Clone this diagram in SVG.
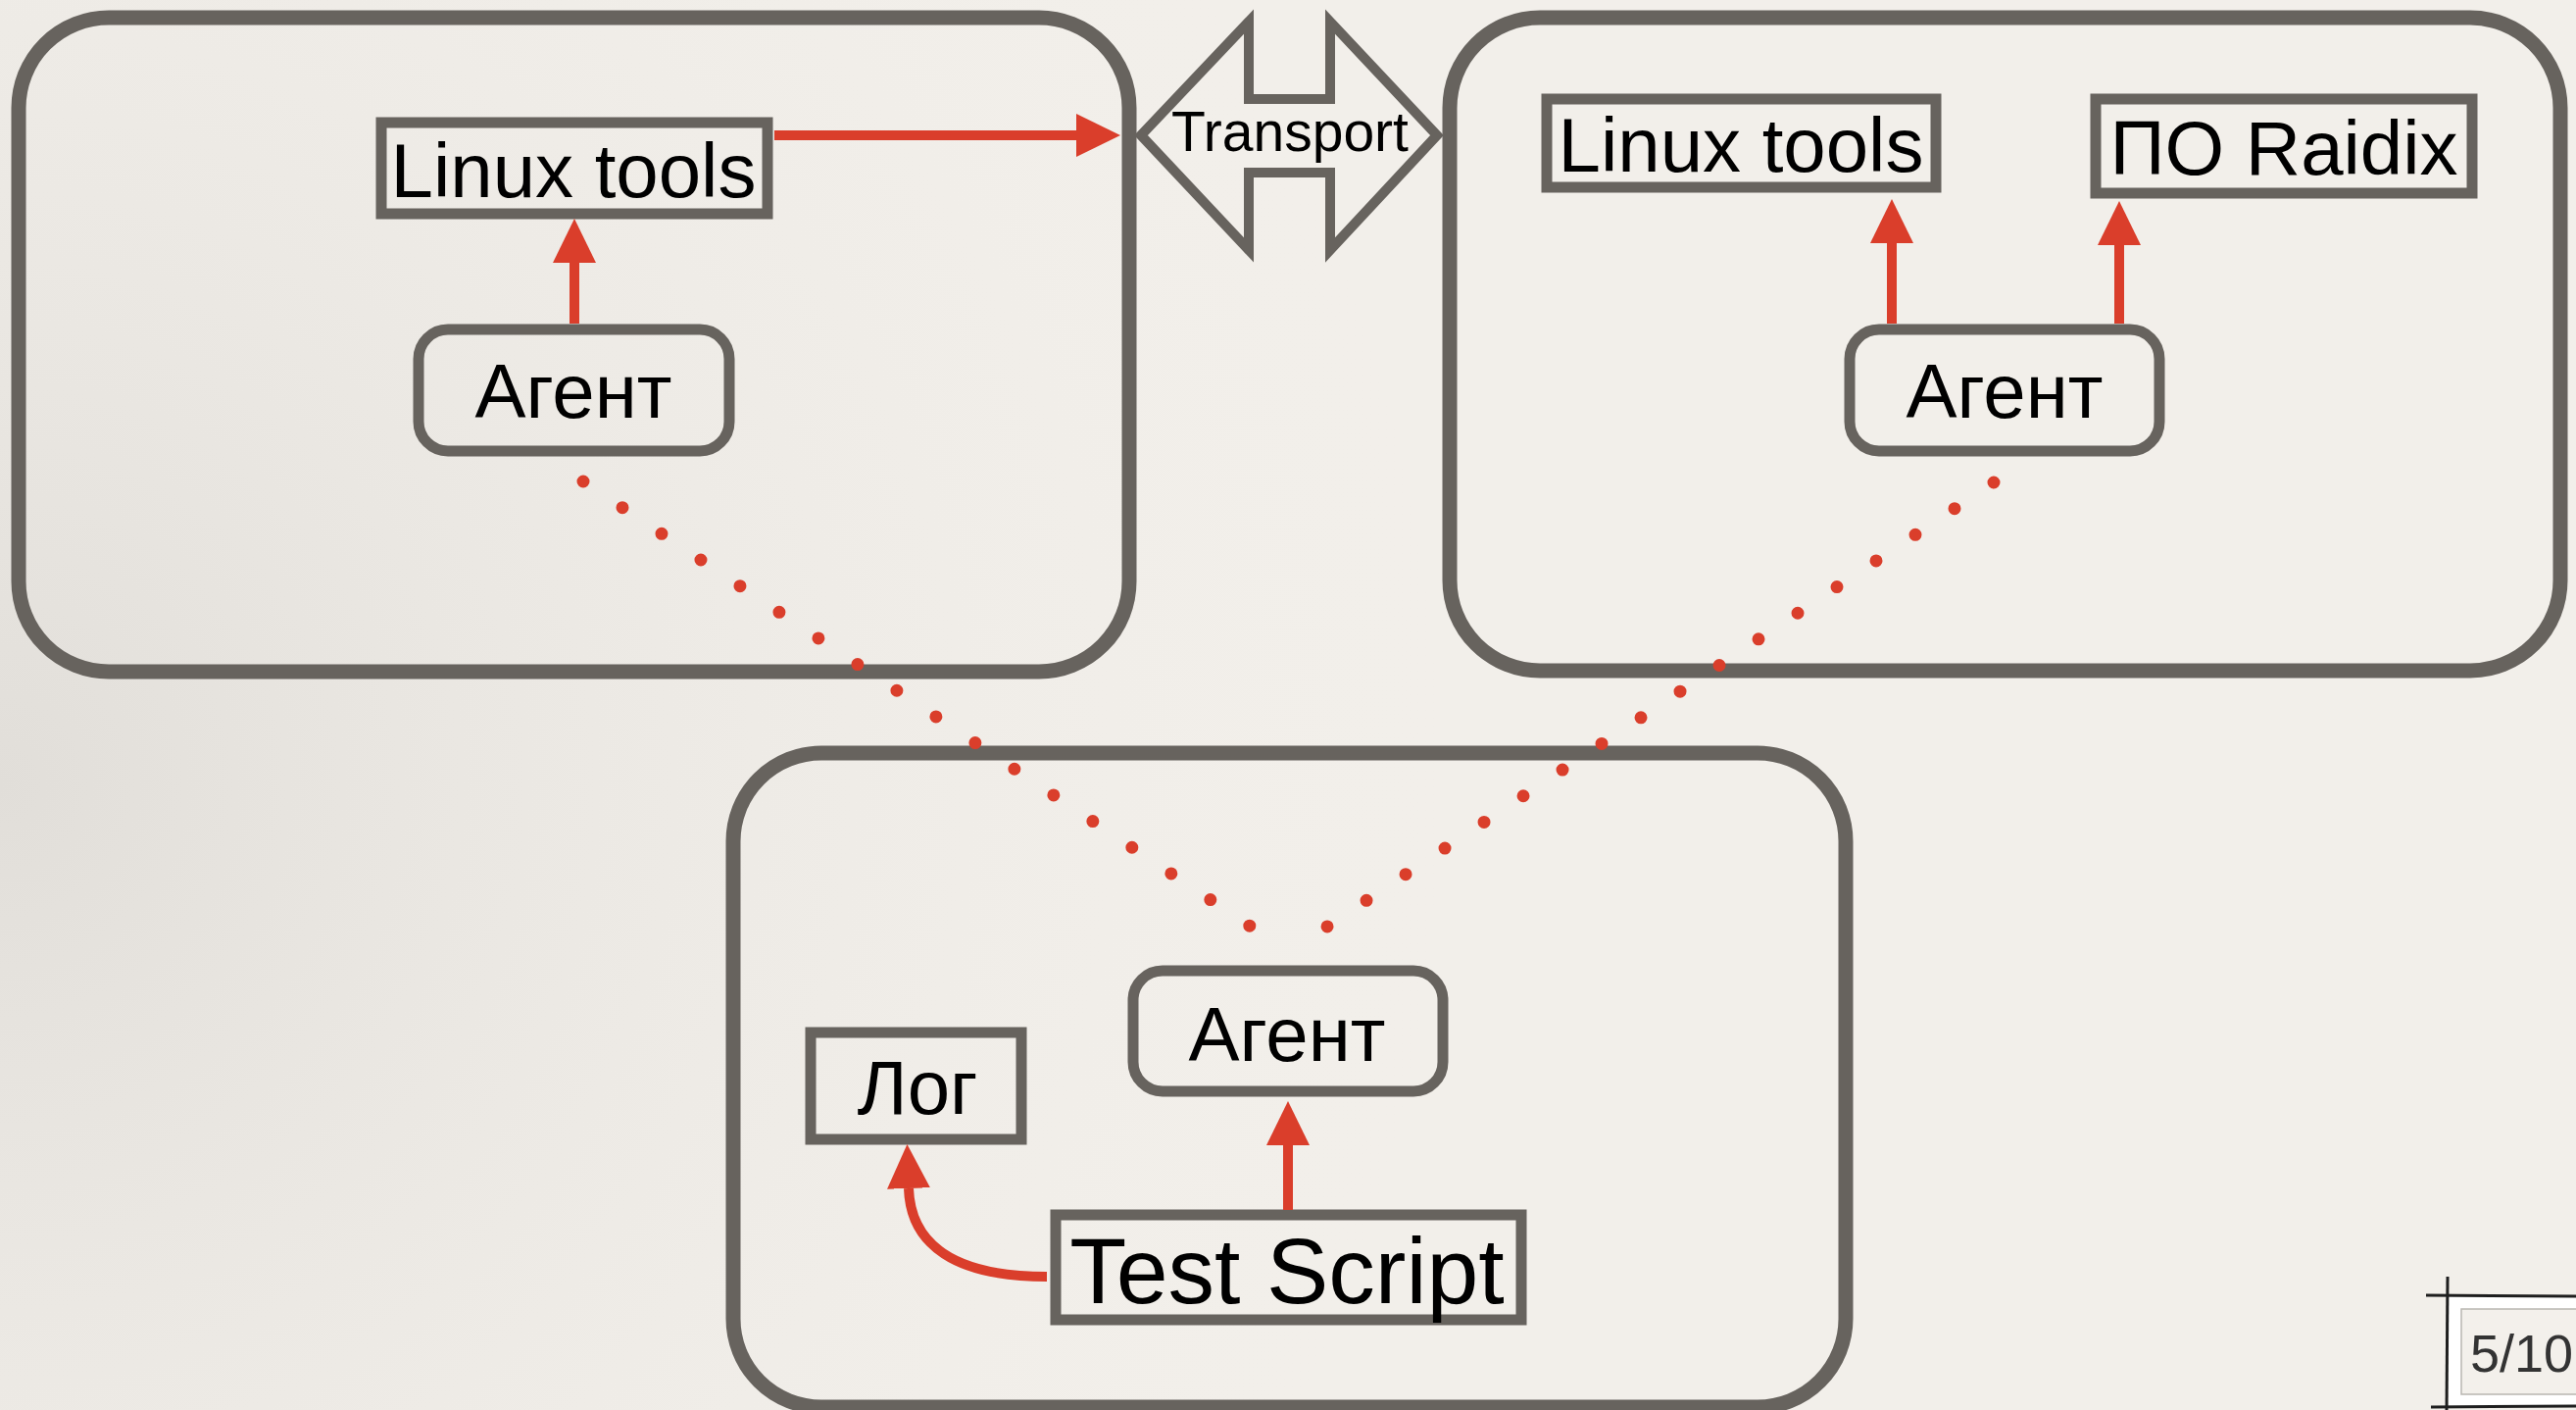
<svg xmlns="http://www.w3.org/2000/svg" width="2628" height="1438" viewBox="0 0 2628 1438">
  <defs>
    <radialGradient id="shade" cx="0" cy="800" r="1500" gradientUnits="userSpaceOnUse">
      <stop offset="0" stop-color="#e1ded9" stop-opacity="1"/>
      <stop offset="1" stop-color="#f2efea" stop-opacity="0"/>
    </radialGradient>
    <marker id="head" markerUnits="userSpaceOnUse" viewBox="0 0 45 44" markerWidth="45" markerHeight="44" refX="0" refY="22" orient="auto">
      <path d="M0 0 L45 22 L0 44 Z" fill="#da3e2b"/>
    </marker>
    <style>
      .frame { fill: none; stroke: #67635e; stroke-width: 15; }
      .box { fill: none; stroke: #67635e; stroke-width: 11; }
      .lbl { font-family: "Liberation Sans", Arial, sans-serif; font-size: 78px; fill: #000; text-anchor: middle; }
      .lbl.big { font-size: 95px; }
      .lbl.small { font-size: 57px; }
      .link { fill: none; stroke: #da3e2b; stroke-width: 10; marker-end: url(#head); }
      .dots { fill: none; stroke: #da3e2b; stroke-width: 13; stroke-linecap: round; stroke-dasharray: 0 48.06; }
      .sketch { fill: none; stroke: #1e1e1e; stroke-width: 3; }
    </style>
  </defs>

  <!-- paper -->
  <rect x="0" y="0" width="2628" height="1438" fill="#f2efea"/>
  <rect x="0" y="0" width="2628" height="1438" fill="url(#shade)"/>

  <!-- left host -->
  <g id="host-left">
    <rect class="frame" x="19" y="18" width="1133" height="667" rx="92" ry="92"/>
  </g>
  <g id="linux-tools-left">
    <rect class="box" x="389" y="125" width="394" height="93"/>
    <text class="lbl" x="585" y="201">Linux tools</text>
  </g>
  <g id="agent-left">
    <rect class="box" x="427" y="336" width="317" height="124" rx="30" ry="30"/>
    <text class="lbl" x="585" y="426">Агент</text>
  </g>

  <!-- transport -->
  <g id="transport">
    <path d="M1164 138 L1274 22 L1274 101 L1357 101 L1357 22 L1466 138 L1357 255 L1357 176 L1274 176 L1274 255 Z" fill="none" stroke="#67635e" stroke-width="10" stroke-linejoin="miter"/>
    <text class="lbl small" x="1316" y="154">Transport</text>
  </g>

  <!-- right host -->
  <g id="host-right">
    <rect class="frame" x="1479" y="18" width="1133" height="666" rx="92" ry="92"/>
  </g>
  <g id="linux-tools-right">
    <rect class="box" x="1578" y="101" width="397" height="90"/>
    <text class="lbl" x="1776" y="175">Linux tools</text>
  </g>
  <g id="po-raidix">
    <rect class="box" x="2138" y="101" width="384" height="96"/>
    <text class="lbl" x="2330" y="178">ПО Raidix</text>
  </g>
  <g id="agent-right">
    <rect class="box" x="1887" y="336" width="316" height="124" rx="30" ry="30"/>
    <text class="lbl" x="2045" y="426">Агент</text>
  </g>

  <!-- control host -->
  <g id="host-control">
    <rect class="frame" x="748" y="768" width="1135" height="667" rx="90" ry="90"/>
  </g>
  <g id="agent-control">
    <rect class="box" x="1156" y="990" width="316" height="123" rx="30" ry="30"/>
    <text class="lbl" x="1313" y="1082">Агент</text>
  </g>
  <g id="log">
    <rect class="box" x="827" y="1053" width="215" height="109"/>
    <text class="lbl" x="936" y="1136">Лог</text>
  </g>
  <g id="test-script">
    <rect class="box" x="1077" y="1239" width="475" height="107"/>
    <text class="lbl big" x="1313" y="1329">Test Script</text>
  </g>

  <!-- connectors -->
  <g id="connectors">
    <path class="link" d="M586 330 L586 268"/>
    <path class="link" d="M790 138 L1098 138"/>
    <path class="link" d="M1930 330 L1930 248"/>
    <path class="link" d="M2162 330 L2162 250"/>
    <path class="link" d="M1314 1234 L1314 1168"/>
    <path class="link" d="M1068 1302 C975 1302 929 1270 927 1212"/>
    <path class="dots" d="M595 491 L1276 945"/>
    <path class="dots" d="M2034 492 L1354 945"/>
  </g>

  <!-- slide number -->
  <g id="slide-number">
    <rect x="2498" y="1322" width="140" height="112" fill="#ffffff"/>
    <rect x="2511" y="1335" width="130" height="87" fill="#f3f0eb" stroke="#b9b6b1" stroke-width="1.5"/>
    <path class="sketch" d="M2475 1321 L2628 1322"/>
    <path class="sketch" d="M2497 1302 L2496 1438"/>
    <path class="sketch" d="M2480 1435 L2628 1434"/>
    <text x="2520" y="1399" font-family="'Liberation Sans', Arial, sans-serif" font-size="54" fill="#333">5/10</text>
  </g>
</svg>
